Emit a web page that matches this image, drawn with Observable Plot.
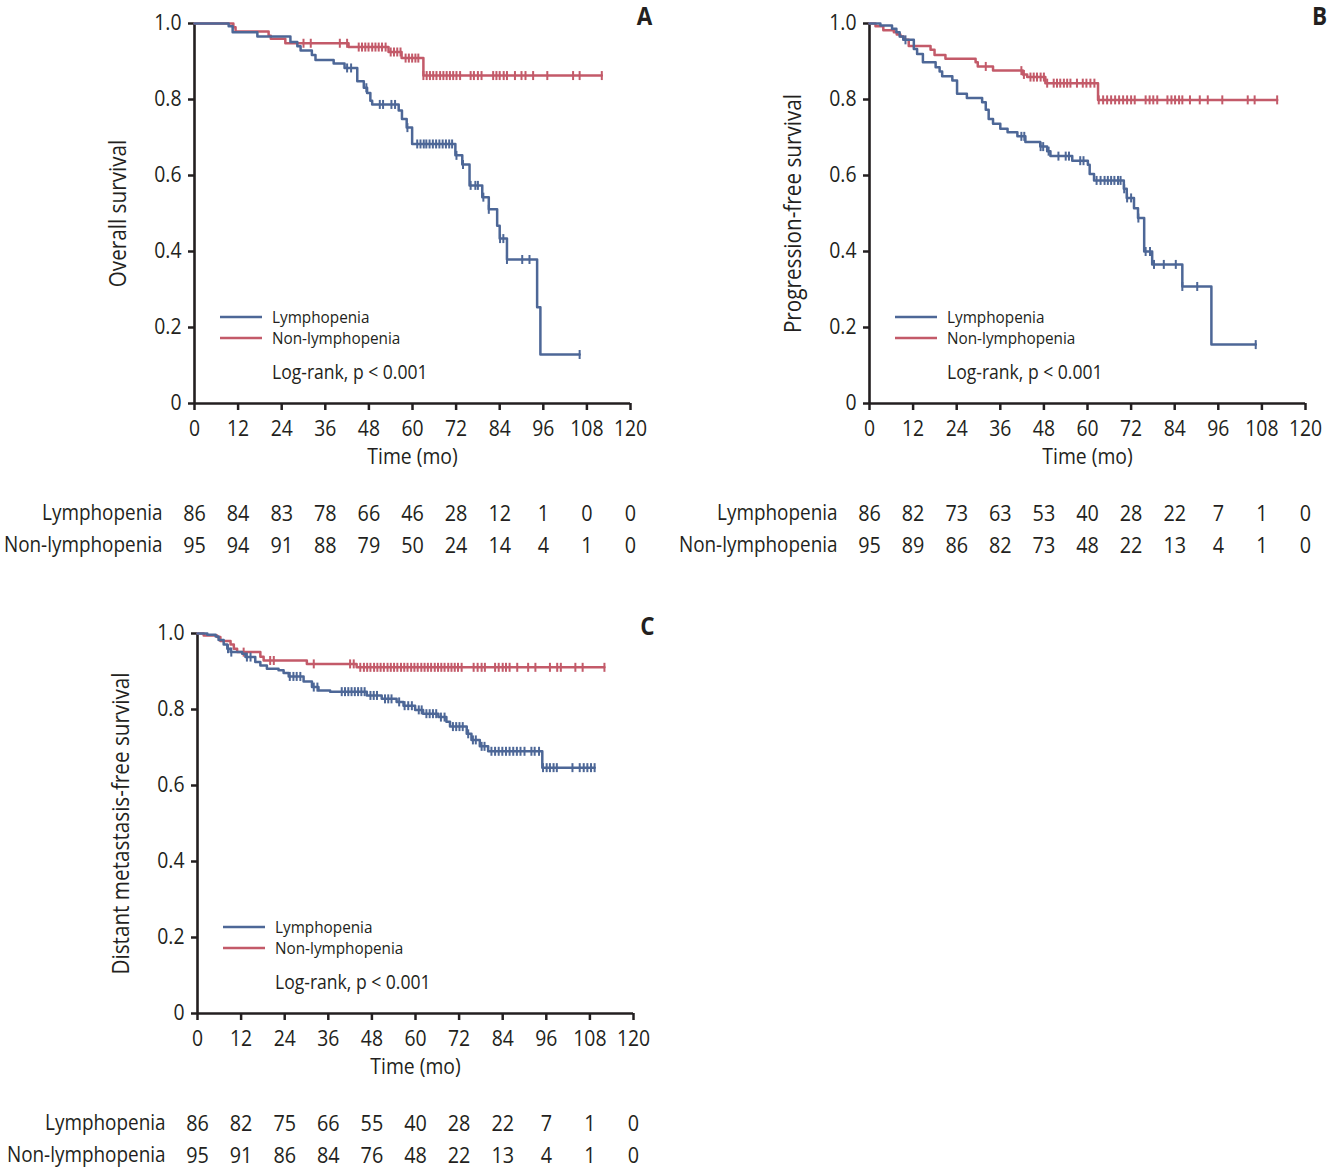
<!DOCTYPE html>
<html>
<head>
<meta charset="utf-8">
<script src="https://cdn.jsdelivr.net/npm/d3@7"></script>
<script src="https://cdn.jsdelivr.net/npm/@observablehq/plot@0.6"></script>
<style>
  html, body { margin: 0; padding: 0; background: #fff; overflow: hidden; }
  #root { position: relative; width: 1327px; height: 1170px; }
  .panel { position: absolute; }
</style>
</head>
<body>
<div id="root"></div>
<script>
// ---------- shared ----------
const timeTicks = [0, 12, 24, 36, 48, 60, 72, 84, 96, 108, 120];
const yTicks = [0, 0.2, 0.4, 0.6, 0.8, 1.0];
const groupNames = ["Lymphopenia", "Non-lymphopenia"];
const logRankText = "Log-rank, p < 0.001";
const xLabel = "Time (mo)";

// ---------- A: Overall survival ----------
const osLymphT = [0, 9.4, 10.5, 17.3, 26.4, 28.3, 29.2, 32.3, 33.3, 38.3, 41.3, 44.8, 46.6, 47.5, 48.4, 48.9, 56.2, 57.1, 58.4, 59.9, 71.8, 73.7, 75.7, 79.2, 81, 83.3, 84, 86, 94.3, 95.2];
const osLymphS = [1, 0.993, 0.977, 0.966, 0.951, 0.94, 0.929, 0.917, 0.904, 0.895, 0.883, 0.848, 0.831, 0.817, 0.797, 0.787, 0.771, 0.749, 0.726, 0.683, 0.653, 0.629, 0.574, 0.543, 0.511, 0.468, 0.434, 0.379, 0.253, 0.129];
const osLymphCens = [42, 43.1, 47.3, 51, 51.9, 54.2, 55.2, 58.6, 61.3, 62.2, 63.1, 63.8, 64.7, 65.6, 66.5, 67.4, 68.3, 69.2, 70.1, 70.9, 72.1, 73.9, 76, 77.3, 78, 79.5, 81, 84.1, 85, 86, 90.2, 92.2, 106];
const osNonT = [0, 10.7, 11.3, 20.4, 21, 25, 42.4, 53.4, 57, 63];
const osNonS = [1, 0.99, 0.979, 0.968, 0.96, 0.948, 0.938, 0.925, 0.909, 0.863];
const osNonCens = [30, 32, 40, 42, 45.2, 46.1, 47, 47.9, 48.9, 49.8, 50.7, 51.6, 52.6, 54, 54.9, 55.8, 56.7, 58.1, 59, 59.9, 60.8, 61.6, 63, 63.9, 64.8, 65.7, 66.6, 67.6, 68.5, 69.4, 70.3, 71.2, 72.1, 73.1, 76, 76.9, 78, 79, 82.2, 83.1, 84, 85.1, 86, 88.2, 90, 91.1, 93.2, 97.1, 104.2, 106, 112.1];
const osRiskLymph = [86, 84, 83, 78, 66, 46, 28, 12, 1, 0, 0];
const osRiskNon = [95, 94, 91, 88, 79, 50, 24, 14, 4, 1, 0];

// ---------- B: Progression-free survival ----------
const pfsLymphT = [0, 3, 6.2, 7.4, 8.3, 9.3, 12.2, 13.1, 14.7, 18.2, 19.3, 20, 22.8, 24.1, 26.8, 31, 32, 32.8, 34, 36, 38, 40.7, 42.9, 47, 48.9, 49.8, 55.8, 60.1, 60.6, 61.8, 70, 70.8, 72.8, 73.9, 75.6, 77.8, 86.1, 94.1];
const pfsLymphS = [1, 0.995, 0.986, 0.977, 0.966, 0.957, 0.933, 0.92, 0.898, 0.885, 0.874, 0.861, 0.85, 0.815, 0.804, 0.793, 0.773, 0.749, 0.736, 0.723, 0.714, 0.703, 0.688, 0.676, 0.664, 0.651, 0.639, 0.628, 0.604, 0.587, 0.565, 0.541, 0.514, 0.488, 0.4, 0.366, 0.308, 0.155];
const pfsLymphCens = [9.9, 41.8, 42.6, 47.1, 47.8, 49.3, 52, 54, 54.9, 58, 58.9, 62.5, 63.6, 64.7, 65.6, 66.5, 67.4, 68.4, 69.1, 70.1, 70.9, 72, 74, 76, 77.2, 78.3, 81, 84.3, 86.1, 90.2, 106.3];
const pfsNonT = [0, 1.65, 3.8, 6.7, 7.5, 8.5, 9.4, 10.8, 16.8, 17.9, 20.9, 29.2, 29.8, 34, 42.2, 43.4, 48.4, 62.9];
const pfsNonS = [1, 0.993, 0.982, 0.977, 0.971, 0.966, 0.957, 0.941, 0.931, 0.917, 0.907, 0.898, 0.887, 0.876, 0.866, 0.859, 0.843, 0.799];
const pfsNonCens = [32, 41.8, 42.5, 44.3, 45.2, 46.1, 47.1, 48, 48.9, 50.7, 51.6, 52.5, 53.5, 54.4, 55.3, 57.1, 58.7, 59.7, 60.8, 61.9, 63.1, 64.3, 65.4, 66.5, 67.6, 68.7, 69.8, 70.9, 72, 73, 76, 77.1, 78.1, 79.2, 82, 83.1, 84.1, 85.2, 86.1, 88.2, 90.9, 93.1, 97.1, 104.1, 106, 112.2];
const pfsRiskLymph = [86, 82, 73, 63, 53, 40, 28, 22, 7, 1, 0];
const pfsRiskNon = [95, 89, 86, 82, 73, 48, 22, 13, 4, 1, 0];

// ---------- C: Distant metastasis-free survival ----------
const dmfsLymphT = [0, 2.7, 5, 5.8, 7.2, 8.2, 9.1, 12.3, 13.2, 15.9, 17.3, 19.1, 22.3, 23.7, 25.1, 29.2, 31.5, 33.3, 36.5, 46.6, 50.7, 54.8, 56.7, 59.9, 62.1, 66.3, 68.5, 69.5, 74.1, 75.4, 77.7, 80, 94.9];
const dmfsLymphS = [1, 0.997, 0.992, 0.983, 0.971, 0.96, 0.951, 0.947, 0.938, 0.925, 0.916, 0.907, 0.903, 0.896, 0.887, 0.874, 0.859, 0.85, 0.847, 0.837, 0.828, 0.82, 0.81, 0.799, 0.789, 0.78, 0.768, 0.755, 0.736, 0.72, 0.703, 0.69, 0.647];
const dmfsLymphCens = [8.4, 9.3, 13.6, 14.6, 25.4, 26.4, 27.3, 28.3, 32, 33, 39.7, 40.6, 41.5, 42.4, 43.3, 44.2, 45.1, 46, 47.6, 48.5, 49.4, 51.6, 52.5, 53.4, 55.5, 57, 58, 59, 60.9, 61.7, 63, 63.9, 64.8, 65.7, 67, 68, 70.3, 71.2, 72.1, 73, 74.5, 75.8, 76.6, 78.2, 79, 80.9, 81.9, 82.9, 83.9, 84.9, 85.9, 86.9, 87.9, 88.9, 90, 91.9, 92.8, 94, 95.1, 96.1, 97, 98, 98.9, 103.2, 105.2, 106.3, 107.3, 108.3, 109.3];
const dmfsNonT = [0, 1.7, 5.4, 6.3, 9.1, 10, 10.9, 17.3, 18.2, 30.1, 43.8];
const dmfsNonS = [1, 0.995, 0.991, 0.98, 0.971, 0.96, 0.951, 0.939, 0.929, 0.92, 0.911];
const dmfsNonCens = [12.7, 20, 21, 32, 42, 43, 44.8, 45.8, 46.7, 47.6, 48.6, 49.5, 50.4, 51.3, 52.3, 53.2, 54.1, 55, 56, 56.9, 57.8, 58.8, 59.7, 60.6, 61.6, 62.5, 63.4, 64.3, 65.3, 66.2, 67.1, 68, 69, 69.9, 70.8, 71.7, 72.7, 76, 77.1, 78.2, 79.1, 81.9, 82.9, 84, 84.9, 85.9, 88, 91, 93, 97, 99, 100, 104, 106, 112];
const dmfsRiskLymph = [86, 82, 75, 66, 55, 40, 28, 22, 7, 1, 0];
const dmfsRiskNon = [95, 91, 86, 84, 76, 48, 22, 13, 4, 1, 0];

// ---------- styling ----------
const BLUE = "#4d6797";
const RED = "#c35a69";
const INK = "#231f20";
const FONT = "'Open Sans', 'DejaVu Sans Condensed', sans-serif";
const STRETCH = "89%";
const SQUEEZE = 0.9; // horizontal compression to mimic a condensed face

const censorSymbol = {
  draw(ctx, size) {
    const r = Math.sqrt(size / Math.PI);
    ctx.moveTo(0, -r);
    ctx.lineTo(0, r);
  }
};

function stepValue(T, S, t) {
  let v = S[0];
  for (let i = 0; i < T.length; i++) if (T[i] <= t) v = S[i];
  return v;
}
function curveRows(T, S, cens) {
  const end = Math.max(T[T.length - 1], ...cens);
  const rows = T.map((t, i) => ({t, s: S[i]}));
  rows.push({t: end, s: S[S.length - 1]});
  return rows;
}
function censRows(T, S, cens) {
  return cens.map(t => ({t, s: stepValue(T, S, t)}));
}

function panel({left, top, height, ylabel, letter, lymph, non, riskL, riskN}) {
  const W = 652, mL = 194, mR = 22, mT = 23, frameH = 380;
  const riskRowsL = riskL.map((n, i) => ({t: timeTicks[i], n}));
  const riskRowsN = riskN.map((n, i) => ({t: timeTicks[i], n}));
  const plot = Plot.plot({
    width: W, height,
    marginLeft: mL, marginRight: mR, marginTop: mT, marginBottom: height - mT - frameH,
    x: {domain: [0, 120]},
    y: {domain: [0, 1]},
    style: {fontFamily: FONT, fontStretch: STRETCH, fontSize: "21.5px", color: INK, background: "transparent", overflow: "visible"},
    marks: [
      Plot.axisX({ticks: timeTicks, tickSize: 7, tickPadding: 10, strokeWidth: 2.5, label: null}),
      Plot.axisY({ticks: yTicks, tickSize: 6, tickPadding: 7, strokeWidth: 2.5, label: null,
        tickFormat: d => d === 0 ? "0" : d.toFixed(1)}),
      Plot.ruleX([0], {stroke: INK, strokeWidth: 2.6}),
      Plot.ruleY([0], {stroke: INK, strokeWidth: 2.6}),
      Plot.line(curveRows(non.T, non.S, non.cens), {x: "t", y: "s", curve: "step-after", stroke: RED, strokeWidth: 2.5}),
      Plot.dot(censRows(non.T, non.S, non.cens), {x: "t", y: "s", symbol: censorSymbol, r: 4.5, fill: "none", stroke: RED, strokeWidth: 2}),
      Plot.line(curveRows(lymph.T, lymph.S, lymph.cens), {x: "t", y: "s", curve: "step-after", stroke: BLUE, strokeWidth: 2.5}),
      Plot.dot(censRows(lymph.T, lymph.S, lymph.cens), {x: "t", y: "s", symbol: censorSymbol, r: 4.5, fill: "none", stroke: BLUE, strokeWidth: 2}),
      Plot.text([ylabel], {frameAnchor: "left", rotate: -90, dx: -76, textAnchor: "middle", lineAnchor: "middle", fontSize: 23, fill: INK}),
      Plot.text([xLabel], {frameAnchor: "bottom", dy: 54, lineAnchor: "middle", fontSize: 21.5, fill: INK}),
      Plot.text([letter], {frameAnchor: "top-right", dx: 14, dy: -7, textAnchor: "middle", lineAnchor: "middle", fontSize: 25, fontWeight: "bold", fill: INK}),
      Plot.text([groupNames[0]], {frameAnchor: "bottom-left", dx: -32, dy: 110, textAnchor: "end", lineAnchor: "middle", fontSize: 21, fill: INK}),
      Plot.text([groupNames[1]], {frameAnchor: "bottom-left", dx: -32, dy: 142, textAnchor: "end", lineAnchor: "middle", fontSize: 21, fill: INK}),
      Plot.text(riskRowsL, {x: "t", text: d => String(d.n), frameAnchor: "bottom", dy: 110, lineAnchor: "middle", fontSize: 22, fill: INK}),
      Plot.text(riskRowsN, {x: "t", text: d => String(d.n), frameAnchor: "bottom", dy: 142, lineAnchor: "middle", fontSize: 22, fill: INK})
    ]
  });
  // legend inside the frame
  const svg = d3.select(plot);
  const g = svg.append("g").attr("transform", `translate(${mL},${mT})`)
    .attr("font-family", FONT).style("font-stretch", STRETCH)
    .attr("fill", INK).attr("text-anchor", "start");
  const items = [{name: groupNames[0], color: BLUE, y: 294}, {name: groupNames[1], color: RED, y: 315}];
  for (const it of items) {
    g.append("line").attr("x1", 26).attr("x2", 68).attr("y1", it.y).attr("y2", it.y)
      .attr("stroke", it.color).attr("stroke-width", 2.5);
    g.append("text").attr("x", 78).attr("y", it.y).attr("dy", "0.35em")
      .attr("font-size", 17).text(it.name);
  }
  g.append("text").attr("x", 78).attr("y", 349).attr("dy", "0.35em")
    .attr("font-size", 19.5).text(logRankText);

  const div = document.createElement("div");
  div.className = "panel";
  div.style.left = left + "px";
  div.style.top = top + "px";
  div.appendChild(plot);
  document.getElementById("root").appendChild(div);

  // condense every label horizontally (the reference uses a condensed face)
  svg.selectAll("text").each(function() {
    const len = this.getComputedTextLength();
    if (len > 0) {
      this.setAttribute("textLength", (len * SQUEEZE).toFixed(2));
      this.setAttribute("lengthAdjust", "spacingAndGlyphs");
    }
  });
}

panel({left: 0, top: 0, height: 570, ylabel: "Overall survival", letter: "A",
  lymph: {T: osLymphT, S: osLymphS, cens: osLymphCens},
  non: {T: osNonT, S: osNonS, cens: osNonCens},
  riskL: osRiskLymph, riskN: osRiskNon});
panel({left: 675, top: 0, height: 570, ylabel: "Progression-free survival", letter: "B",
  lymph: {T: pfsLymphT, S: pfsLymphS, cens: pfsLymphCens},
  non: {T: pfsNonT, S: pfsNonS, cens: pfsNonCens},
  riskL: pfsRiskLymph, riskN: pfsRiskNon});
panel({left: 3, top: 610, height: 560, ylabel: "Distant metastasis-free survival", letter: "C",
  lymph: {T: dmfsLymphT, S: dmfsLymphS, cens: dmfsLymphCens},
  non: {T: dmfsNonT, S: dmfsNonS, cens: dmfsNonCens},
  riskL: dmfsRiskLymph, riskN: dmfsRiskNon});
</script>
</body>
</html>
